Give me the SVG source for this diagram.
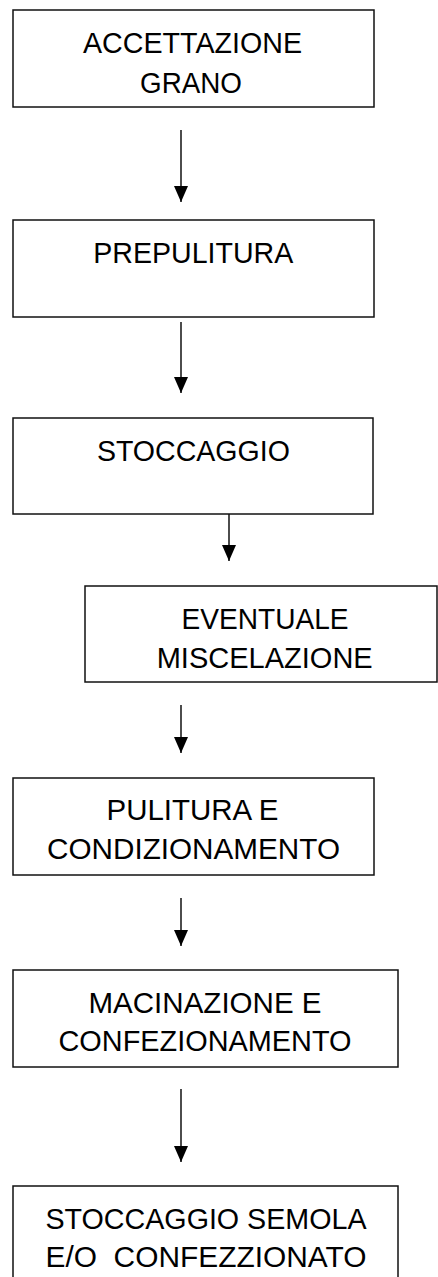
<svg xmlns="http://www.w3.org/2000/svg" width="438" height="1277" viewBox="0 0 438 1277">
<defs>
<style>
.box{fill:#fff;stroke:#111;stroke-width:1.5}
.t{font-family:"Liberation Sans",Arial,sans-serif;font-size:30px;fill:#000;text-anchor:middle}
.c{stroke:#000;stroke-width:1.4;fill:none;marker-end:url(#ah)}
</style>
<marker id="ah" markerUnits="userSpaceOnUse" markerWidth="16" markerHeight="14" viewBox="0 -7 16 14" refX="16" refY="0" orient="auto">
<path d="M0,-7 L16,0 L0,7 z" fill="#000"/>
</marker>
</defs>
<rect width="438" height="1277" fill="#fff"/>
<g id="connectors">
<line class="c" x1="181" y1="130" x2="181" y2="202"/>
<line class="c" x1="181" y1="322" x2="181" y2="393"/>
<line class="c" x1="229" y1="514" x2="229" y2="561"/>
<line class="c" x1="181" y1="705" x2="181" y2="753"/>
<line class="c" x1="181" y1="898" x2="181" y2="946"/>
<line class="c" x1="181" y1="1089" x2="181" y2="1162"/>
</g>
<g id="n1">
<rect class="box" x="13" y="10" width="361" height="97"/>
<text class="t" x="192.5" y="53" textLength="219" lengthAdjust="spacingAndGlyphs">ACCETTAZIONE</text>
<text class="t" x="191" y="93" textLength="102" lengthAdjust="spacingAndGlyphs">GRANO</text>
</g>
<g id="n2">
<rect class="box" x="13" y="220" width="361" height="97"/>
<text class="t" x="193.3" y="263" textLength="200" lengthAdjust="spacingAndGlyphs">PREPULITURA</text>
</g>
<g id="n3">
<rect class="box" x="13" y="418" width="360" height="96"/>
<text class="t" x="193.4" y="461" textLength="193" lengthAdjust="spacingAndGlyphs">STOCCAGGIO</text>
</g>
<g id="n4">
<rect class="box" x="85" y="586" width="352" height="96"/>
<text class="t" x="265" y="629" textLength="167" lengthAdjust="spacingAndGlyphs">EVENTUALE</text>
<text class="t" x="264.7" y="668" textLength="216" lengthAdjust="spacingAndGlyphs">MISCELAZIONE</text>
</g>
<g id="n5">
<rect class="box" x="13" y="778" width="361" height="97"/>
<text class="t" x="192.5" y="820" textLength="172" lengthAdjust="spacingAndGlyphs">PULITURA E</text>
<text class="t" x="193.5" y="859" textLength="293" lengthAdjust="spacingAndGlyphs">CONDIZIONAMENTO</text>
</g>
<g id="n6">
<rect class="box" x="13" y="970" width="385" height="97"/>
<text class="t" x="205" y="1013" textLength="233" lengthAdjust="spacingAndGlyphs">MACINAZIONE E</text>
<text class="t" x="205" y="1051" textLength="293" lengthAdjust="spacingAndGlyphs">CONFEZIONAMENTO</text>
</g>
<g id="n7">
<rect class="box" x="13" y="1186" width="385" height="110"/>
<text class="t" x="206" y="1229" textLength="321" lengthAdjust="spacingAndGlyphs">STOCCAGGIO SEMOLA</text>
<text class="t" x="206" y="1267" textLength="321" lengthAdjust="spacingAndGlyphs" xml:space="preserve">E/O  CONFEZZIONATO</text>
</g>
</svg>
